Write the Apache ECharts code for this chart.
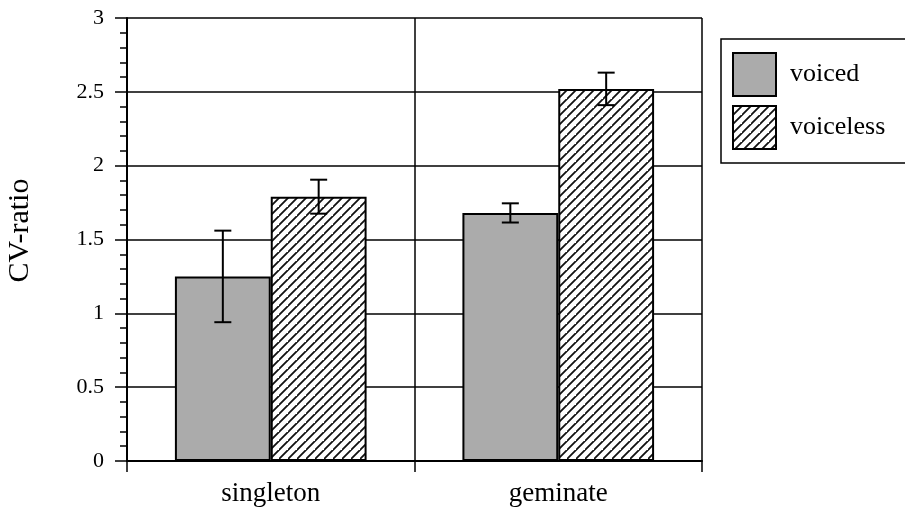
<!DOCTYPE html>
<html>
<head>
<meta charset="utf-8">
<script src="https://cdn.jsdelivr.net/npm/echarts@6/dist/echarts.min.js"></script>
<style>
  html, body { margin: 0; padding: 0; background: #fff; }
  #chart { width: 905px; height: 512px; }
</style>
</head>
<body>
<div id="chart"></div>
<script>
// CV-ratio by consonant length and voicing
const categories = ['singleton', 'geminate'];
const seriesNames = ['voiced', 'voiceless'];
const voicedMeans = [1.25, 1.68];
const voicedErrors = [0.31, 0.065];
const voicelessMeans = [1.79, 2.52];
const voicelessErrors = [0.115, 0.11];
const yTicks = [0, 0.5, 1, 1.5, 2, 2.5, 3];

const FONT = '"Liberation Serif", "DejaVu Serif", serif';

// diagonal hatch tile for the voiceless bars
function hatchPattern() {
  const s = 9;
  const c = document.createElement('canvas');
  c.width = s; c.height = s;
  const g = c.getContext('2d');
  g.fillStyle = '#fff';
  g.fillRect(0, 0, s, s);
  g.strokeStyle = '#111';
  g.lineWidth = 1.8;
  g.beginPath();
  g.moveTo(-1, s + 1); g.lineTo(s + 1, -1);
  g.moveTo(-1 - s, s + 1); g.lineTo(1, -1);
  g.moveTo(s - 1, 2 * s + 1); g.lineTo(2 * s + 1, s - 1);
  g.stroke();
  return { image: c, repeat: 'repeat' };
}

const grayFill = '#ababab';
const hatchFill = hatchPattern();

// error bar drawer: side -1 -> left bar, +1 -> right bar in each category
function errorBars(means, errs, side) {
  return {
    type: 'custom',
    silent: true,
    z: 5,
    data: means.map((m, i) => [i, m - errs[i], m + errs[i]]),
    renderItem: function (params, api) {
      const band = api.size([1, 0])[0];
      const barW = band / 3;
      const x = api.coord([api.value(0), 0])[0] + side * barW / 2;
      const lo = api.coord([api.value(0), api.value(1)])[1];
      const hi = api.coord([api.value(0), api.value(2)])[1];
      const cap = 8.5;
      const style = { stroke: '#000', lineWidth: 2 };
      return {
        type: 'group',
        children: [
          { type: 'line', shape: { x1: x, y1: lo, x2: x, y2: hi }, style: style },
          { type: 'line', shape: { x1: x - cap, y1: hi, x2: x + cap, y2: hi }, style: style },
          { type: 'line', shape: { x1: x - cap, y1: lo, x2: x + cap, y2: lo }, style: style }
        ]
      };
    }
  };
}

const chart = echarts.init(document.getElementById('chart'), null, { renderer: 'canvas' });

chart.setOption({
  animation: false,
  backgroundColor: '#fff',
  textStyle: { fontFamily: FONT, color: '#000' },
  grid: { left: 127, right: 203, top: 18, bottom: 51, containLabel: false, outerBoundsMode: 'none' },
  legend: {
    orient: 'vertical',
    left: 721,
    top: 39,
    data: seriesNames,
    itemWidth: 43,
    itemHeight: 43,
    itemGap: 8,
    padding: [13, 160, 13, 11],
    borderColor: '#000',
    borderWidth: 1.5,
    icon: 'rect',
    textStyle: { fontFamily: FONT, fontSize: 26, color: '#000', padding: [0, 0, 0, 9] }
  },
  xAxis: {
    type: 'category',
    data: categories,
    boundaryGap: true,
    axisLine: { show: true, lineStyle: { color: '#000', width: 2 } },
    axisTick: { show: true, length: 11, lineStyle: { color: '#000', width: 1.5 } },
    splitLine: { show: true, lineStyle: { color: '#000', width: 1.5 } },
    axisLabel: { fontFamily: FONT, fontSize: 27, color: '#000', margin: 19 }
  },
  yAxis: {
    type: 'value',
    min: yTicks[0],
    max: yTicks[yTicks.length - 1],
    interval: 0.5,
    name: 'CV-ratio',
    nameLocation: 'middle',
    nameRotate: 90,
    nameGap: 92,
    nameTextStyle: { fontFamily: FONT, fontSize: 30, color: '#000', padding: [0, 0, 0, 18] },
    axisLine: { show: true, lineStyle: { color: '#000', width: 2 } },
    axisTick: { show: true, length: 12, lineStyle: { color: '#000', width: 1.5 } },
    minorTick: { show: true, splitNumber: 5, length: 7, lineStyle: { color: '#000', width: 1.5 } },
    splitLine: { show: true, lineStyle: { color: '#000', width: 1.5 } },
    axisLabel: {
      fontFamily: FONT, fontSize: 22, color: '#000', margin: 23,
      formatter: v => (yTicks.includes(v) ? String(v) : '')
    }
  },
  series: [
    {
      name: seriesNames[0],
      type: 'bar',
      data: voicedMeans,
      barGap: '0%',
      barCategoryGap: '33.33%',
      itemStyle: { color: grayFill, borderColor: '#000', borderWidth: 2 },
      z: 3
    },
    {
      name: seriesNames[1],
      type: 'bar',
      data: voicelessMeans,
      barGap: '0%',
      barCategoryGap: '33.33%',
      itemStyle: { color: hatchFill, borderColor: '#000', borderWidth: 2 },
      z: 3
    },
    errorBars(voicedMeans, voicedErrors, -1),
    errorBars(voicelessMeans, voicelessErrors, 1)
  ]
});
</script>
</body>
</html>
